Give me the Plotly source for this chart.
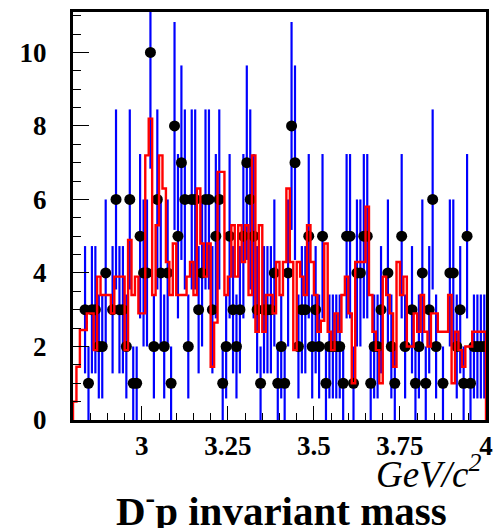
import math
import plotly.graph_objects as go

# D- p invariant mass spectrum, 10 MeV bins from 2.80 to 4.00 GeV/c^2
mass_lo = 2.80
mass_hi = 4.00
bin_width = 0.01

# observed events per bin
counts = [0, 0, 0, 3, 1, 3, 3, 2, 2, 4,
          0, 3, 6, 3, 3, 2, 6, 1, 1, 5,
          4, 4, 10, 2, 6, 4, 2, 4, 1, 8,
          5, 7, 6, 2, 6, 6, 3, 4, 6, 6,
          3, 5, 6, 1, 2, 5, 3, 2, 3, 5,
          7, 6, 5, 3, 1, 3, 3, 3, 4, 1,
          2, 1, 4, 8, 7, 2, 3, 3, 5, 2,
          3, 2, 5, 1, 2, 2, 2, 2, 1, 5,
          5, 1, 4, 4, 5, 5, 1, 2, 2, 3,
          0, 4, 2, 1, 0, 5, 2, 0, 3, 1,
          2, 4, 1, 3, 6, 2, 0, 1, 0, 4,
          4, 2, 3, 1, 5, 1, 2, 2, 2, 2]

# expected (simulated) spectrum per bin
expected = [0.5, 1.45, 2.45, 2.45, 2.9, 2.9, 1.9, 3.9, 3.4, 3.4,
            3.4, 2.9, 3.9, 3.9, 3.9, 1.9, 4.9, 3.4, 3.9, 2.9,
            2.9, 7.2, 8.2, 3.4, 5.3, 7.2, 6.3, 4.3, 3.4, 4.8,
            3.4, 3.4, 3.4, 3.9, 4.3, 3.4, 6.3, 4.8, 3.9, 4.8,
            1.45, 2.65, 6.75, 6.75, 3.4, 3.9, 5.3, 3.9, 5.3, 4.3,
            5.3, 3.4, 7.2, 2.4, 5.3, 2.4, 3.4, 3.4, 2.9, 4.3,
            3.4, 4.3, 6.3, 4.3, 1.9, 4.3, 3.9, 3.4, 5.3, 4.3,
            3.4, 2.4, 2.7, 4.8, 2.4, 1.9, 2.9, 2.4, 3.4, 3.9,
            2.9, 1.0, 4.3, 4.3, 4.3, 5.8, 3.4, 2.4, 1.9, 1.0,
            3.9, 3.4, 2.9, 1.45, 4.3, 3.4, 3.9, 2.0, 2.0, 2.9,
            2.4, 3.4, 2.4, 2.0, 2.9, 2.9, 2.4, 2.4, 2.4, 3.4,
            1.0, 2.4, 1.9, 1.45, 2.0, 2.0, 2.4, 2.4, 2.4, 2.4]

x_tick_vals = [3.0, 3.25, 3.5, 3.75, 4.0]
x_tick_text = ["3", "3.25", "3.5", "3.75", "4"]
y_tick_vals = [0, 2, 4, 6, 8, 10]
y_tick_text = ["0", "2", "4", "6", "8", "10"]

x_title = "GeV/c<sup>2</sup>"
main_title = "D<sup>-</sup>p invariant mass"

n_bins = len(counts)
edges = [mass_lo + bin_width * i for i in range(n_bins + 1)]
centers = [mass_lo + bin_width * (i + 0.5) for i in range(n_bins)]

# data points (non-empty bins) with Poisson errors
px = [c for c, n in zip(centers, counts) if n > 0]
py = [n for n in counts if n > 0]
perr = [math.sqrt(n) for n in py]

# step outline of the expected histogram, closed down to zero at both ends
hx = [edges[0]] + edges[:-1] + [edges[-1]]
hy = [0] + expected + [0]

serif = "Liberation Serif, Times New Roman, serif"

fig = go.Figure()
fig.add_trace(go.Scatter(
    x=px, y=py, mode="markers",
    marker=dict(color="black", size=11),
    error_y=dict(type="data", array=perr, visible=True,
                 color="#0000ff", thickness=2.2, width=0),
    showlegend=False, cliponaxis=True,
))
fig.add_trace(go.Scatter(
    x=hx, y=hy, mode="lines", line=dict(color="#ff0000", width=2.4, shape="hv"),
    showlegend=False,
))

fig.update_layout(
    width=504, height=528,
    margin=dict(l=73, r=18, t=9, b=108),
    paper_bgcolor="white", plot_bgcolor="white",
    font=dict(family=serif, color="black"),
)
fig.update_xaxes(
    range=[mass_lo, mass_hi], showgrid=False, zeroline=False,
    showline=True, linecolor="black", linewidth=3, mirror=True,
    ticks="inside", ticklen=14, tickwidth=1.2, tickcolor="black",
    tickvals=x_tick_vals, ticktext=x_tick_text,
    tickfont=dict(family=serif, size=27, weight="bold"),
    minor=dict(ticks="inside", ticklen=7, dtick=0.05, tick0=3.0,
               tickcolor="black", tickwidth=1),
)
fig.update_yaxes(
    range=[0, 11.1], showgrid=False, zeroline=False,
    showline=True, linecolor="black", linewidth=3, mirror=True,
    ticks="inside", ticklen=16, tickwidth=1.2, tickcolor="black",
    tickvals=y_tick_vals, ticktext=y_tick_text,
    tickfont=dict(family=serif, size=27, weight="bold"),
    ticklabelstandoff=18,
    minor=dict(ticks="inside", ticklen=8, dtick=0.5, tick0=0,
               tickcolor="black", tickwidth=1),
)

fig.add_annotation(
    text=x_title, xref="paper", yref="paper", x=0.993, y=-0.125,
    xanchor="right", yanchor="middle", showarrow=False,
    font=dict(family=serif, size=37, style="italic"),
)
fig.add_annotation(
    text=main_title, xref="paper", yref="paper", x=0.505, y=-0.215,
    xanchor="center", yanchor="middle", showarrow=False,
    font=dict(family=serif, size=41, weight="bold"),
)

fig.write_html("out.html")
